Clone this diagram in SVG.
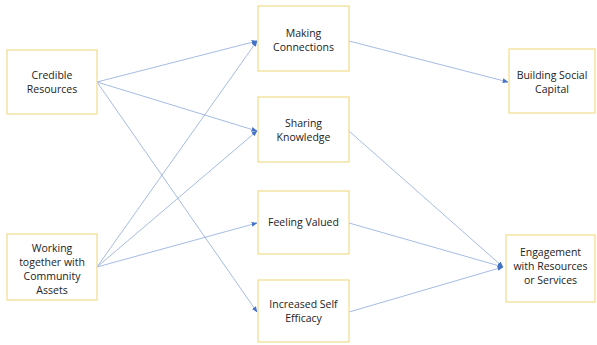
<svg xmlns="http://www.w3.org/2000/svg" width="597" height="345" viewBox="0 0 597 345">
<style>
.box{fill:#ffffff;stroke:#f2dc8c;stroke-width:1.2}
.lbl{font-family:"Open Sans","Liberation Sans",sans-serif;font-size:10.5px;fill:#222;text-anchor:middle}
.ln{stroke:#8faadc;stroke-width:0.8;fill:none;marker-end:url(#ah)}
</style>
<defs>
<marker id="ah" viewBox="0 0 10 10" refX="9" refY="5" markerWidth="6" markerHeight="6" orient="auto" markerUnits="userSpaceOnUse">
<path d="M0,1 L10,5 L0,9 Z" fill="#4472c4"/>
</marker>
</defs>
<rect width="597" height="345" fill="#ffffff"/>
<g id="connectors">
<line class="ln" x1="97" y1="82" x2="257" y2="41"/>
<line class="ln" x1="97" y1="82" x2="257" y2="131"/>
<line class="ln" x1="97" y1="82" x2="257" y2="312"/>
<line class="ln" x1="97" y1="267" x2="257" y2="41"/>
<line class="ln" x1="97" y1="267" x2="257" y2="131"/>
<line class="ln" x1="97" y1="267" x2="257" y2="223"/>
<line class="ln" x1="349" y1="41" x2="508" y2="82"/>
<line class="ln" x1="349" y1="131" x2="503" y2="267"/>
<line class="ln" x1="349" y1="223" x2="503" y2="267"/>
<line class="ln" x1="349" y1="312" x2="503" y2="267"/>
</g>
<g id="credible">
<rect class="box" x="7" y="50" width="90" height="64"/>
<text class="lbl" x="52" y="79">Credible</text>
<text class="lbl" x="52" y="93">Resources</text>
</g>
<g id="working">
<rect class="box" x="7" y="234" width="90" height="66"/>
<text class="lbl" x="52" y="252">Working</text>
<text class="lbl" x="52" y="266">together with</text>
<text class="lbl" x="52" y="280">Community</text>
<text class="lbl" x="52" y="294">Assets</text>
</g>
<g id="making">
<rect class="box" x="258" y="6" width="91" height="65"/>
<text class="lbl" x="303.5" y="37">Making</text>
<text class="lbl" x="303.5" y="51">Connections</text>
</g>
<g id="sharing">
<rect class="box" x="258" y="97" width="91" height="65"/>
<text class="lbl" x="303.5" y="127">Sharing</text>
<text class="lbl" x="303.5" y="141">Knowledge</text>
</g>
<g id="feeling">
<rect class="box" x="258" y="191" width="91" height="63"/>
<text class="lbl" x="303.5" y="226">Feeling Valued</text>
</g>
<g id="increased">
<rect class="box" x="258" y="280" width="91" height="62"/>
<text class="lbl" x="303.5" y="308">Increased Self</text>
<text class="lbl" x="303.5" y="322">Efficacy</text>
</g>
<g id="building">
<rect class="box" x="509" y="49" width="86" height="64"/>
<text class="lbl" x="552" y="79">Building Social</text>
<text class="lbl" x="552" y="93">Capital</text>
</g>
<g id="engagement">
<rect class="box" x="506" y="235" width="89" height="67"/>
<text class="lbl" x="550.5" y="256">Engagement</text>
<text class="lbl" x="550.5" y="270">with Resources</text>
<text class="lbl" x="550.5" y="284">or Services</text>
</g>
</svg>
